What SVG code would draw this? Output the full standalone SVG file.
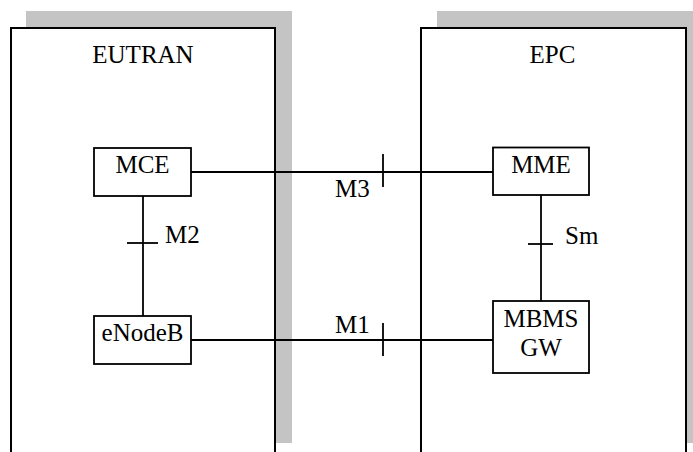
<svg xmlns="http://www.w3.org/2000/svg" width="693" height="452" viewBox="0 0 693 452">
<style>
.shadow{fill:#c4c4c4;stroke:none}
.domain{fill:#fff;stroke:#000;stroke-width:2}
.node rect{fill:#fff;stroke:#000;stroke-width:1.8}
.conn line{stroke:#000;stroke-width:1.8}
text{font-family:Liberation Serif,Tinos,Times New Roman,Times,Nimbus Roman,DejaVu Serif,Noto Serif,serif;font-size:25px;fill:#000}
.c{text-anchor:middle}
</style>
<g id="eutran">
<rect class="shadow" x="26" y="11" width="266" height="432"/>
<rect class="domain" x="11" y="28" width="264" height="430"/>
<text class="c" x="143" y="63">EUTRAN</text>
</g>
<g id="epc">
<rect class="shadow" x="437" y="11" width="256" height="432"/>
<rect class="domain" x="421" y="28" width="265" height="430"/>
<text class="c" x="552.5" y="63">EPC</text>
</g>
<g class="conn" id="connectors">
<line x1="191" y1="172" x2="493" y2="172"/>
<line x1="383" y1="154" x2="383" y2="187"/>
<line x1="191" y1="340" x2="493" y2="340"/>
<line x1="383" y1="323" x2="383" y2="356"/>
<line x1="143" y1="196" x2="143" y2="316"/>
<line x1="127" y1="243" x2="158" y2="243"/>
<line x1="541" y1="195" x2="541" y2="301"/>
<line x1="528" y1="244" x2="553" y2="244"/>
<text x="335" y="197">M3</text>
<text x="335" y="333">M1</text>
<text x="165" y="243">M2</text>
<text x="565" y="244">Sm</text>
</g>
<g class="node" id="mce">
<rect x="94" y="148" width="97" height="48"/>
<text class="c" x="142.5" y="173">MCE</text>
</g>
<g class="node" id="enodeb">
<rect x="94" y="316" width="97" height="48"/>
<text class="c" x="142.5" y="341">eNodeB</text>
</g>
<g class="node" id="mme">
<rect x="493" y="147.5" width="96" height="47.5"/>
<text class="c" x="541" y="173">MME</text>
</g>
<g class="node" id="mbmsgw">
<rect x="493" y="301" width="96" height="72"/>
<text class="c" x="541" y="327">MBMS</text>
<text class="c" x="541" y="356">GW</text>
</g>
</svg>
